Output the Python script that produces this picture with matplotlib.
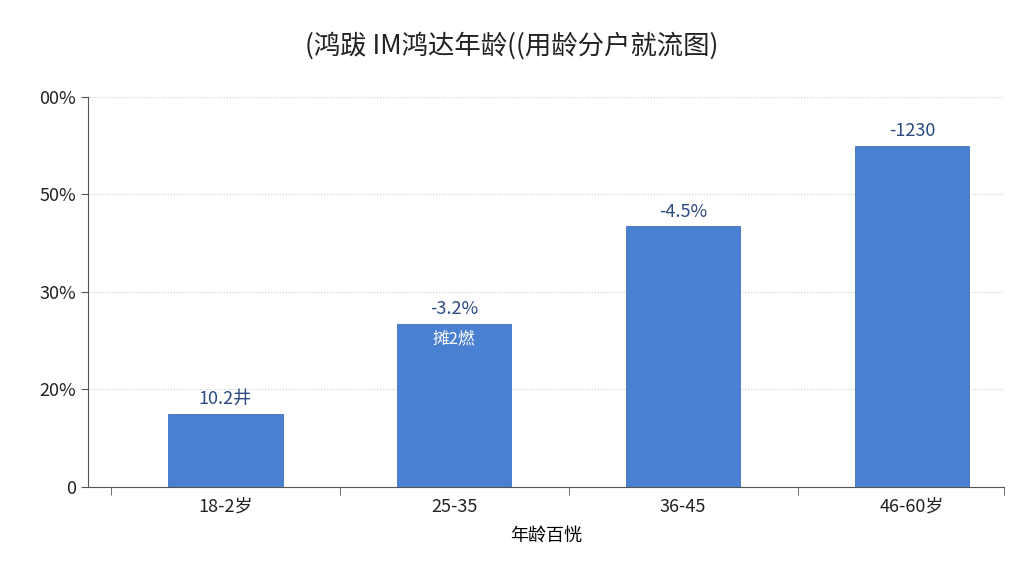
import matplotlib
matplotlib.use("Agg")
import matplotlib.pyplot as plt
import numpy as np

plt.rcParams['font.family'] = ['Noto Sans CJK SC', 'DejaVu Sans']

categories = ["18-2岁", "25-35", "36-45", "46-60岁"]
values = [0.75, 1.67, 2.67, 3.5]          # in tick-slot units
bar_labels = ["10.2井", "-3.2%", "-4.5%", "-1230"]
inner_labels = ["", "摊2燃", "", ""]
tick_labels = ["0", "20%", "30%", "50%", "00%"]
title = "(鸿跋 IM鸿达年龄((用龄分户就流图)"
xlabel = "年龄百恍"

fig = plt.figure(figsize=(10.24, 5.76), dpi=100)
ax = fig.add_axes([0.086, 0.155, 0.894, 0.677])
x = np.arange(len(categories))
bars = ax.bar(x, values, width=0.5, color="#4a80d2", edgecolor="#3f6fbf", linewidth=0.6, zorder=3)
for xi, v, lab, inner in zip(x, values, bar_labels, inner_labels):
    ax.text(xi, v + 0.06, lab, ha="center", va="bottom", fontsize=13, color="#2b4a80")
    if inner:
        ax.text(xi, v - 0.07, inner, ha="center", va="top", fontsize=12, color="white")
ax.set_xlim(-0.6, 3.4)
ax.set_ylim(0, 4)
ax.set_yticks(range(5))
ax.set_yticklabels(tick_labels, fontsize=13, color="#222222")
ax.set_xticks(x)
ax.set_xticklabels(categories, fontsize=13, color="#222222")
ax.set_xticks([-0.5, 0.5, 1.5, 2.5, 3.4], minor=True)
ax.tick_params(axis="x", which="minor", length=6, color="#555555")
ax.tick_params(axis="x", which="major", length=0, pad=8)
ax.tick_params(axis="y", length=5, color="#555555")
ax.grid(axis="y", linestyle=":", color="#cccccc", zorder=0)
for s in ["top", "right"]:
    ax.spines[s].set_visible(False)
ax.spines["left"].set_color("#555555")
ax.spines["bottom"].set_color("#555555")
ax.set_xlabel(xlabel, fontsize=13, labelpad=8)
fig.text(0.5, 0.92, title, ha="center", va="center", fontsize=19, color="#222222")
fig.savefig("out.png", dpi=100)
